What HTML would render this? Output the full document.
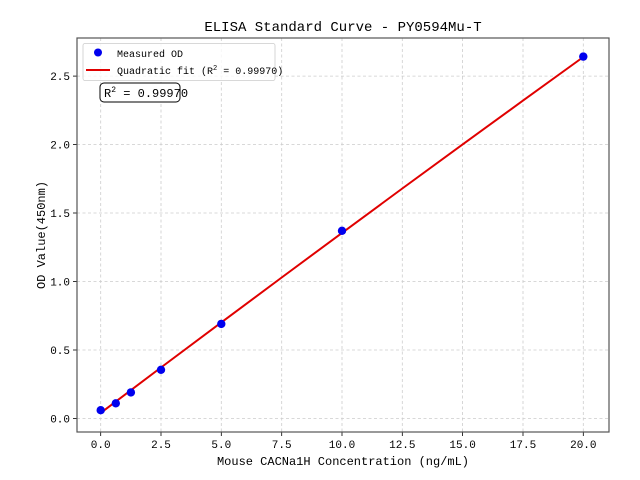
<!DOCTYPE html>
<html><head><style>body{margin:0;background:#fff}svg{display:block}text{font-family:"WenQuanYi Zen Hei","Liberation Mono",sans-serif;fill:#000}</style></head><body>
<svg width="640" height="480" xmlns="http://www.w3.org/2000/svg">
<rect width="640" height="480" fill="#fff"/>
<g stroke="#cccccc" stroke-width="0.8" stroke-dasharray="3,2.5">
<line x1="100.7" y1="38" x2="100.7" y2="432"/><line x1="161" y1="38" x2="161" y2="432"/><line x1="221.3" y1="38" x2="221.3" y2="432"/><line x1="281.7" y1="38" x2="281.7" y2="432"/><line x1="342" y1="38" x2="342" y2="432"/><line x1="402.3" y1="38" x2="402.3" y2="432"/><line x1="462.6" y1="38" x2="462.6" y2="432"/><line x1="523" y1="38" x2="523" y2="432"/><line x1="583.3" y1="38" x2="583.3" y2="432"/>
<line x1="77" y1="418.4" x2="609" y2="418.4"/><line x1="77" y1="350" x2="609" y2="350"/><line x1="77" y1="281.5" x2="609" y2="281.5"/><line x1="77" y1="213" x2="609" y2="213"/><line x1="77" y1="144.6" x2="609" y2="144.6"/><line x1="77" y1="76.1" x2="609" y2="76.1"/>
</g>
<g stroke="#000" stroke-width="0.8">
<line x1="100.7" y1="432" x2="100.7" y2="436"/><line x1="161" y1="432" x2="161" y2="436"/><line x1="221.3" y1="432" x2="221.3" y2="436"/><line x1="281.7" y1="432" x2="281.7" y2="436"/><line x1="342" y1="432" x2="342" y2="436"/><line x1="402.3" y1="432" x2="402.3" y2="436"/><line x1="462.6" y1="432" x2="462.6" y2="436"/><line x1="523" y1="432" x2="523" y2="436"/><line x1="583.3" y1="432" x2="583.3" y2="436"/>
<line x1="73" y1="418.4" x2="77" y2="418.4"/><line x1="73" y1="350" x2="77" y2="350"/><line x1="73" y1="281.5" x2="77" y2="281.5"/><line x1="73" y1="213" x2="77" y2="213"/><line x1="73" y1="144.6" x2="77" y2="144.6"/><line x1="73" y1="76.1" x2="77" y2="76.1"/>
</g>
<polyline fill="none" stroke="#e00000" stroke-width="2" points="100.7,412.9 161,367.5 221.3,322.4 281.7,277.5 342,232.9 402.3,188.5 462.6,144.4 523,100.6 583.3,57"/>
<g fill="#0000ee">
<circle cx="100.7" cy="410.2" r="4.2"/><circle cx="115.8" cy="403.3" r="4.2"/><circle cx="130.9" cy="392.4" r="4.2"/><circle cx="161" cy="369.8" r="4.2"/><circle cx="221.3" cy="323.9" r="4.2"/><circle cx="342" cy="230.8" r="4.2"/><circle cx="583.3" cy="56.6" r="4.2"/>
</g>
<rect x="77" y="38" width="532" height="394" fill="none" stroke="#555" stroke-width="1.2"/>
<g font-size="11" text-anchor="middle">
<text x="100.7" y="448">0.0</text><text x="161" y="448">2.5</text><text x="221.3" y="448">5.0</text><text x="281.7" y="448">7.5</text><text x="342" y="448">10.0</text><text x="402.3" y="448">12.5</text><text x="462.6" y="448">15.0</text><text x="523" y="448">17.5</text><text x="583.3" y="448">20.0</text>
</g>
<g font-size="11" text-anchor="end">
<text x="70" y="422.4">0.0</text><text x="70" y="354">0.5</text><text x="70" y="285.5">1.0</text><text x="70" y="217">1.5</text><text x="70" y="148.6">2.0</text><text x="70" y="80.1">2.5</text>
</g>
<text x="343" y="465" font-size="12" text-anchor="middle">Mouse CACNa1H Concentration (ng/mL)</text>
<text transform="translate(45,235) rotate(-90)" font-size="12" text-anchor="middle">OD Value(450nm)</text>
<text x="343" y="31" font-size="14" text-anchor="middle">ELISA Standard Curve - PY0594Mu-T</text>
<rect x="83" y="43.5" width="192" height="37" rx="2" fill="#fff" fill-opacity="0.8" stroke="#ccc" stroke-width="0.8"/>
<circle cx="98" cy="52.5" r="4" fill="#0000ee"/>
<line x1="86" y1="70" x2="110" y2="70" stroke="#e00000" stroke-width="2"/>
<text x="117" y="57" font-size="10">Measured OD</text>
<text x="117" y="74" font-size="10">Quadratic fit (R<tspan dy="-4" font-size="7">2</tspan><tspan dy="4"> = 0.99970)</tspan></text>
<rect x="100" y="83" width="80" height="19" rx="4" fill="#fff" stroke="#000" stroke-width="1"/>
<text x="104" y="97" font-size="12">R<tspan dy="-5" font-size="8">2</tspan><tspan dy="5"> = 0.99970</tspan></text>
</svg>
</body></html>
